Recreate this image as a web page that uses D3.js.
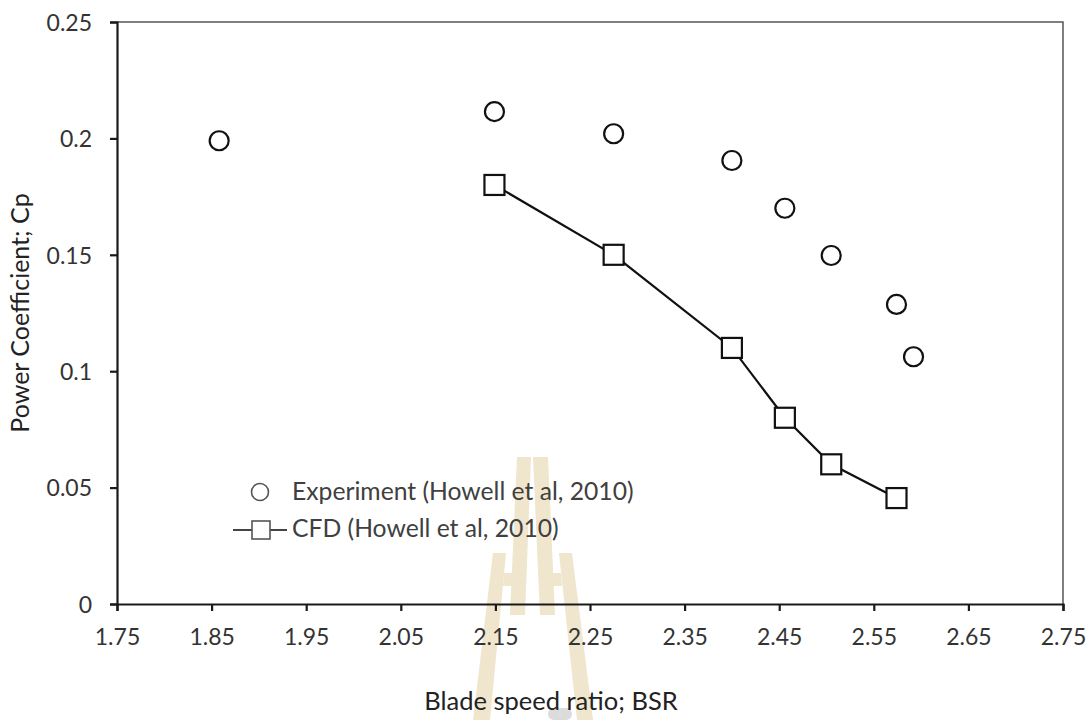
<!DOCTYPE html>
<html>
<head>
<meta charset="utf-8">
<script src="https://cdn.jsdelivr.net/npm/d3@7"></script>
<style>
  body { margin: 0; background: #fff; }
  text { font-family: Lato, "Open Sans", sans-serif; }
</style>
</head>
<body>
<div id="viz-container"></div>
<script>
let vizWidth = 1092;
let vizHeight = 720;

// data
let expBSR = [1.858, 2.149, 2.275, 2.400, 2.456, 2.505, 2.574, 2.592];
let expCp  = [0.199, 0.2115, 0.202, 0.1905, 0.170, 0.1497, 0.1287, 0.1062];
let cfdBSR = [2.149, 2.275, 2.400, 2.456, 2.505, 2.574];
let cfdCp  = [0.180, 0.150, 0.110, 0.080, 0.060, 0.0455];

let xTicks = [1.75, 1.85, 1.95, 2.05, 2.15, 2.25, 2.35, 2.45, 2.55, 2.65, 2.75];
let xTickLabels = ["1.75", "1.85", "1.95", "2.05", "2.15", "2.25", "2.35", "2.45", "2.55", "2.65", "2.75"];
let yTicks = [0, 0.05, 0.1, 0.15, 0.2, 0.25];
let yTickLabels = ["0", "0.05", "0.1", "0.15", "0.2", "0.25"];

let legendNames = ["Experiment (Howell et al, 2010)", "CFD (Howell et al, 2010)"];
let xTitle = "Blade speed ratio; BSR";
let yTitle = "Power Coefficient; Cp";

let margin = {left: 117, top: 22, right: 1092 - 1063, bottom: 720 - 604};

let viz = d3.select("#viz-container")
    .append("svg")
        .attr("width", vizWidth)
        .attr("height", vizHeight)
        .style("background-color", "white")
;

// faint watermark logo behind the chart
let wm = viz.append("g").attr("fill", "#f0e5cd");
let wmShapes = [
    [[517,457],[531,457],[525,615],[510,615]],
    [[533,457],[548,457],[555,615],[540,615]],
    [[493,553],[506,553],[490,720],[473,720]],
    [[559,553],[572,553],[593,720],[577,720]],
    [[504,573],[520,573],[519,586],[503,586]],
    [[545,573],[561,573],[562,586],[546,586]]
];
wm.selectAll("polygon").data(wmShapes).enter().append("polygon")
    .attr("points", d => d.map(p => p.join(",")).join(" "));
viz.append("rect").attr("x", 548).attr("y", 708).attr("width", 24).attr("height", 12)
    .attr("rx", 6).attr("fill", "#dcdcdc");

let xScale = d3.scaleLinear().domain([1.75, 2.75]).range([margin.left, vizWidth - margin.right]);
let yScale = d3.scaleLinear().domain([0, 0.25]).range([vizHeight - margin.bottom, margin.top]);

// plot frame (top and right)
viz.append("path")
    .attr("d", "M" + xScale(1.75) + "," + yScale(0.25) + "H" + xScale(2.75) + "V" + yScale(0))
    .attr("fill", "none")
    .attr("stroke", "#555")
    .attr("stroke-width", 1.5)
;

let xAxis = d3.axisBottom(xScale)
    .tickValues(xTicks)
    .tickFormat((d, i) => xTickLabels[i])
    .tickSizeOuter(0)
    .tickSize(7)
    .tickPadding(18);
let yAxis = d3.axisLeft(yScale)
    .tickValues(yTicks)
    .tickFormat((d, i) => yTickLabels[i])
    .tickSizeOuter(0)
    .tickSize(7)
    .tickPadding(18);

let gx = viz.append("g")
    .attr("transform", "translate(0," + yScale(0) + ")")
    .call(xAxis);
let gy = viz.append("g")
    .attr("transform", "translate(" + xScale(1.75) + ",0)")
    .call(yAxis);

[gx, gy].forEach(function(g){
    g.selectAll("path, line").attr("stroke", "#1a1a1a").attr("stroke-width", 2.2);
    g.selectAll("text")
        .attr("font-size", 23)
        .attr("fill", "#333")
        .style("font-family", "Lato, sans-serif");
});
gy.selectAll("text").attr("dy", "0.36em");

// axis titles
viz.append("text")
    .attr("x", 551)
    .attr("y", 710)
    .attr("text-anchor", "middle")
    .attr("font-size", 25.5)
    .attr("fill", "#222")
    .text(xTitle);
viz.append("text")
    .attr("transform", "translate(29," + 313 + ") rotate(-90)")
    .attr("text-anchor", "middle")
    .attr("font-size", 25)
    .attr("fill", "#222")
    .text(yTitle);

// CFD line + squares
let cfdData = cfdBSR.map((x, i) => ({x: x, y: cfdCp[i]}));
let line = d3.line().x(d => xScale(d.x)).y(d => yScale(d.y));
viz.append("path")
    .datum(cfdData)
    .attr("d", line)
    .attr("fill", "none")
    .attr("stroke", "#111")
    .attr("stroke-width", 2.2);

let sq = 20;
viz.selectAll(".cfd").data(cfdData).enter().append("rect")
    .attr("class", "cfd")
    .attr("x", d => xScale(d.x) - sq / 2)
    .attr("y", d => yScale(d.y) - sq / 2)
    .attr("width", sq)
    .attr("height", sq)
    .attr("fill", "white")
    .attr("stroke", "#111")
    .attr("stroke-width", 2.2);

// experiment circles
let expData = expBSR.map((x, i) => ({x: x, y: expCp[i]}));
viz.selectAll(".exp").data(expData).enter().append("circle")
    .attr("class", "exp")
    .attr("cx", d => xScale(d.x))
    .attr("cy", d => yScale(d.y))
    .attr("r", 9.5)
    .attr("fill", "white")
    .attr("stroke", "#111")
    .attr("stroke-width", 2.2);

// legend
let legend = viz.append("g");
legend.append("circle")
    .attr("cx", 260).attr("cy", 492).attr("r", 8.5)
    .attr("fill", "none").attr("stroke", "#555").attr("stroke-width", 1.6);
legend.append("line")
    .attr("x1", 233).attr("x2", 287).attr("y1", 530).attr("y2", 530)
    .attr("stroke", "#444").attr("stroke-width", 2);
legend.append("rect")
    .attr("x", 252).attr("y", 521).attr("width", 18).attr("height", 18)
    .attr("fill", "white").attr("stroke", "#555").attr("stroke-width", 1.6);
legend.selectAll(".lt").data(legendNames).enter().append("text")
    .attr("class", "lt")
    .attr("x", 292)
    .attr("y", (d, i) => 500 + i * 37)
    .attr("font-size", 24.7)
    .attr("fill", "#404040")
    .text(d => d);
</script>
</body>
</html>
